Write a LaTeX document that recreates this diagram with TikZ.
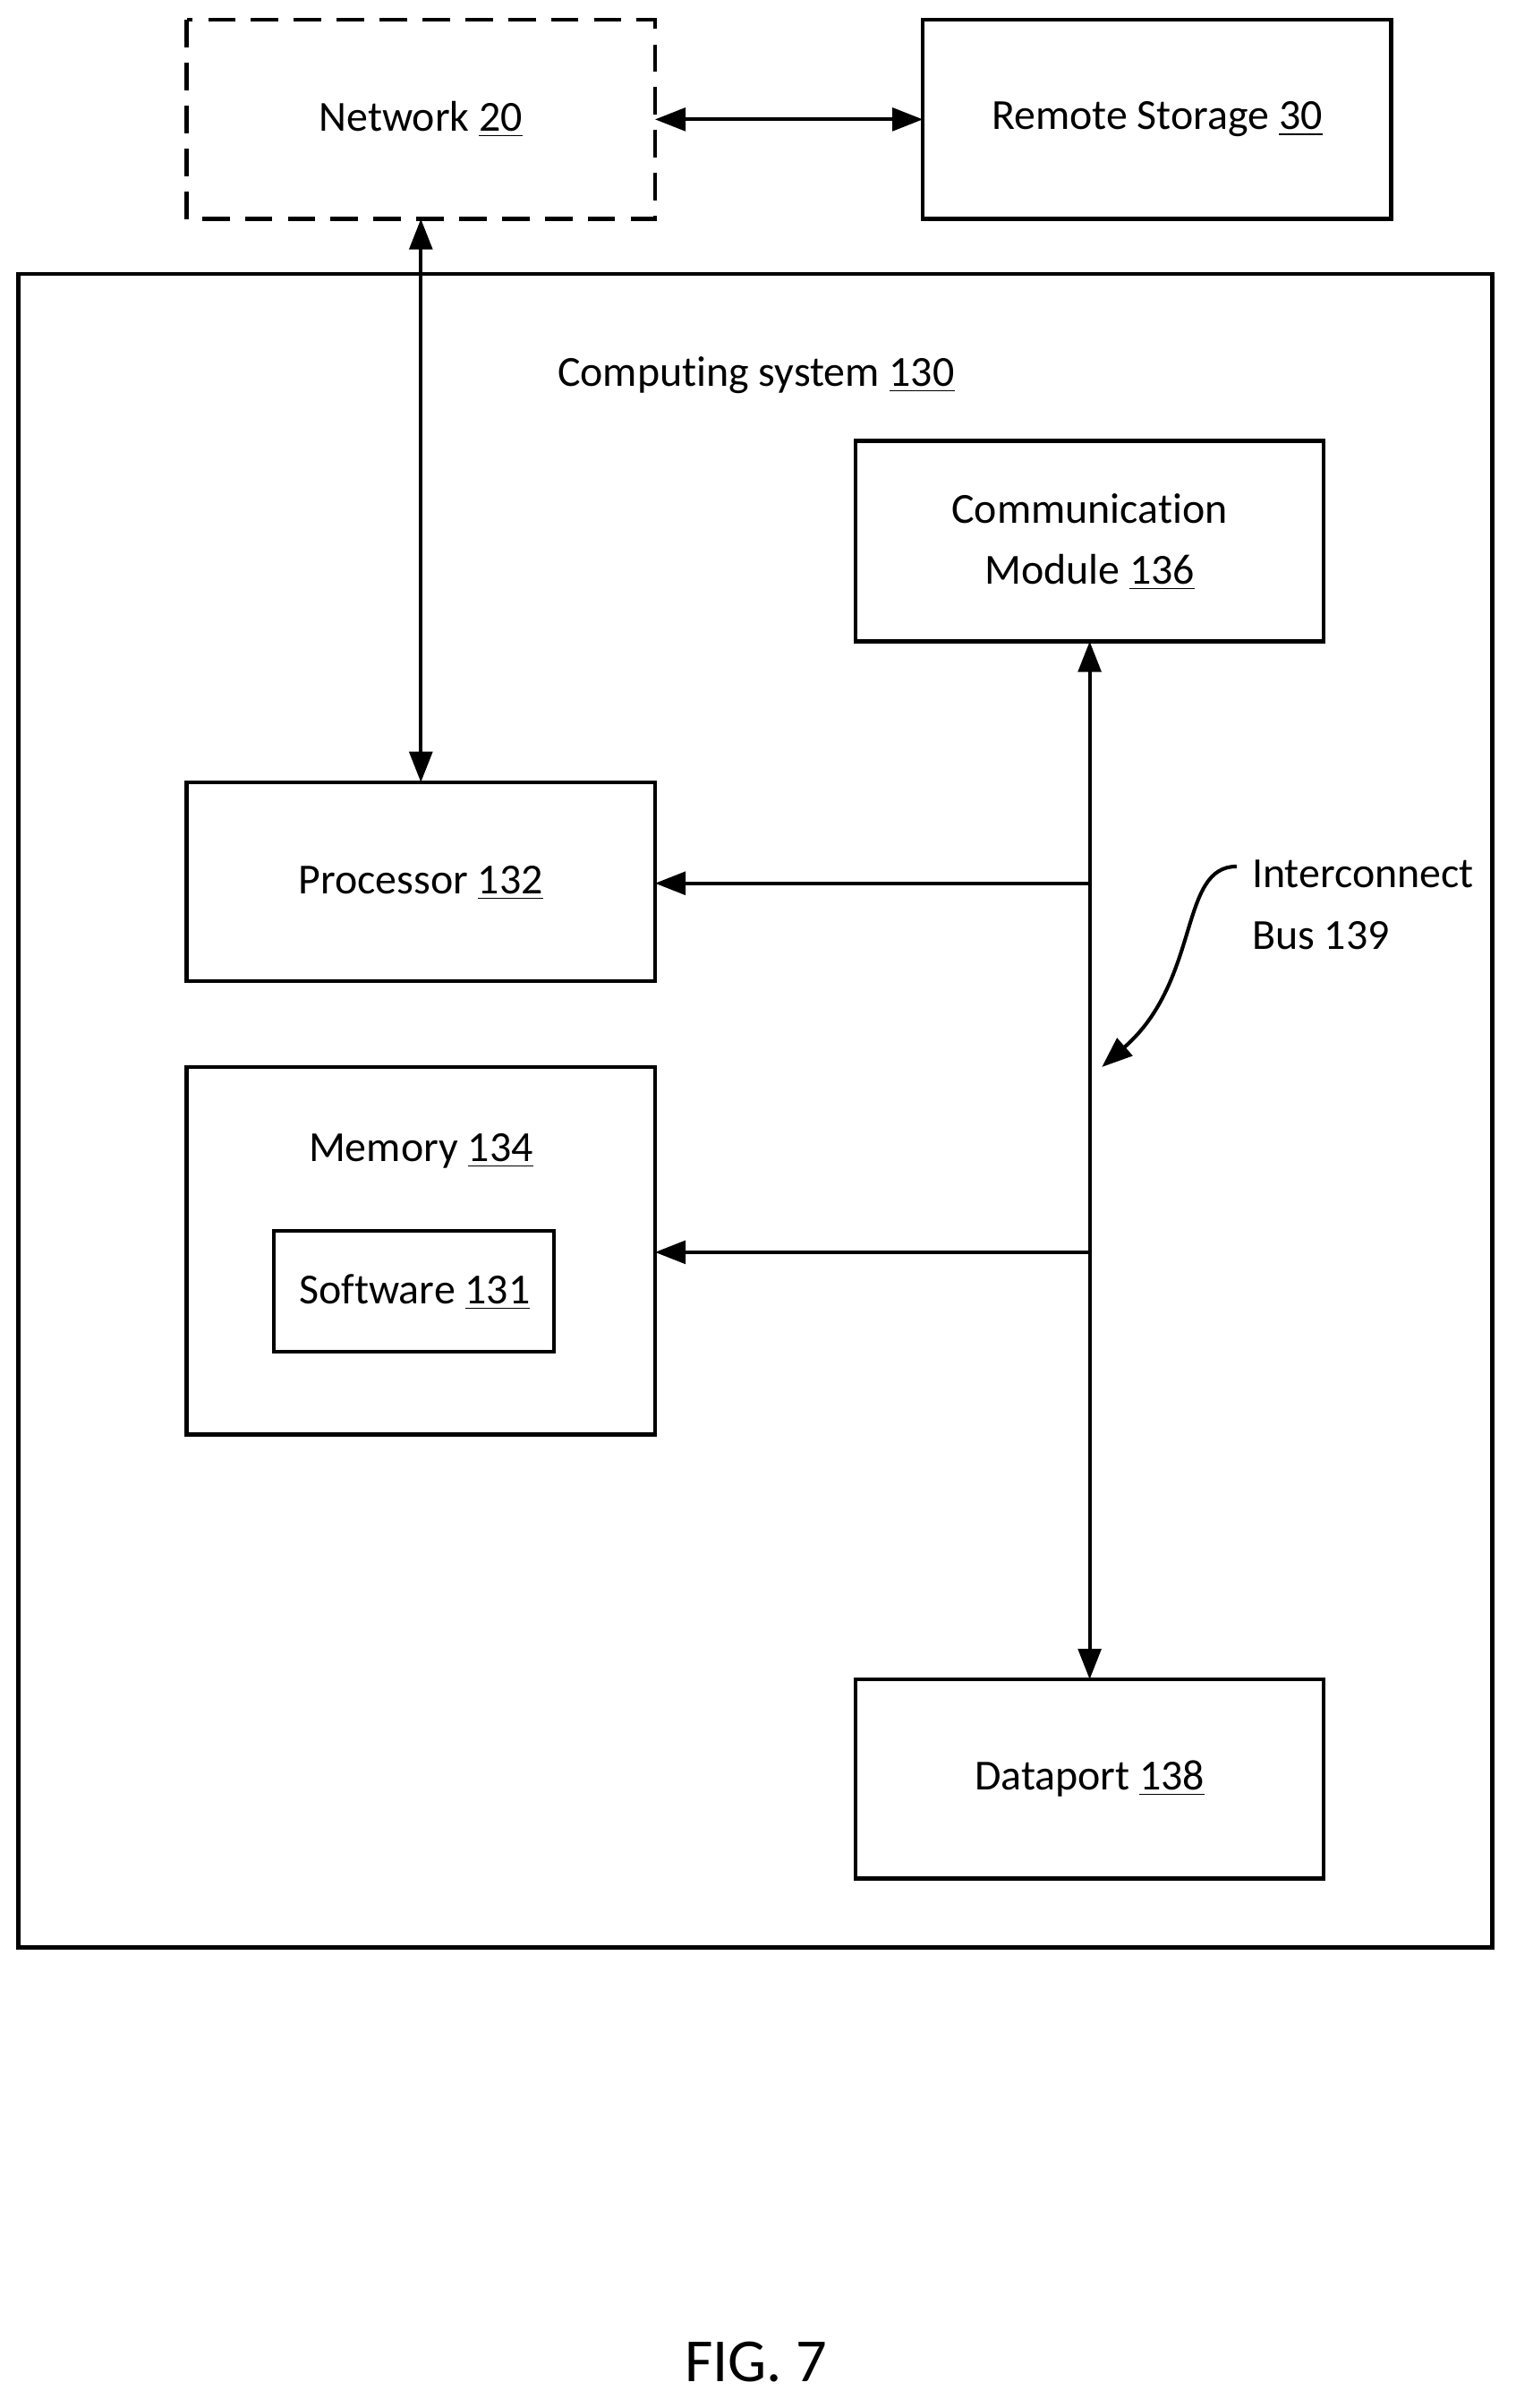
\documentclass[tikz,border=0pt]{standalone}
\usepackage{fontspec}
\setmainfont{Carlito}[Ligatures={NoCommon}]
\usetikzlibrary{arrows.meta}
\begin{document}
\begin{tikzpicture}[x=0.5pt,y=-0.5pt,
  box/.style={draw,line width=1.3pt},
  lbl/.style={font=\fontsize{14}{17}\selectfont,align=center},
  arr/.style={line width=1.2pt,-{Triangle[length=10pt,width=7.5pt]}},
  darr/.style={line width=1.2pt,{Triangle[length=10pt,width=7.5pt]}-{Triangle[length=10pt,width=7.5pt]}}]
\useasboundingbox (0,0) rectangle (990,1573);
\draw[box,dash pattern=on 9pt off 5pt] (122,13) rectangle (428,143);
\node[lbl] (net) at (275,78) {Network \underline{20}};
\coordinate (netR) at (428,78); \coordinate (netB) at (275,143);
\draw[box] (603,13) rectangle (909,143);
\node[lbl] (rs) at (756,78) {Remote Storage \underline{30}};
\coordinate (rsL) at (603,78);
\draw[box] (12,179) rectangle (975,1272);
\node[lbl] (cs) at (494,245) {Computing system \underline{130}};
\draw[box] (559,288) rectangle (865,419);
\node[lbl,font=\fontsize{14}{20}\selectfont] (cm) at (712,354) {Communication\\Module \underline{136}};
\coordinate (cmB) at (712,419);
\draw[box] (122,511) rectangle (428,641);
\node[lbl] (pr) at (275,577) {Processor \underline{132}};
\coordinate (prT) at (275,511); \coordinate (prR) at (428,577);
\draw[box] (122,697) rectangle (428,937);
\node[lbl] (mem) at (275,752) {Memory \underline{134}};
\coordinate (memR) at (428,818);
\draw[box] (179,804) rectangle (362,883);
\node[lbl] (sw) at (271,844) {Software \underline{131}};
\draw[box] (559,1097) rectangle (865,1227);
\node[lbl] (dp) at (712,1162) {Dataport \underline{138}};
\coordinate (dpT) at (712,1097);
\coordinate (b1) at (712,577); \coordinate (b2) at (712,818);
\draw[darr] (netR) -- (rsL);
\draw[darr] (netB) -- (prT);
\draw[darr] (cmB) -- (dpT);
\draw[arr] (b1) -- (prR);
\draw[arr] (b2) -- (memR);
\node[lbl,align=left,anchor=north west,font=\fontsize{14}{20}\selectfont] (ib) at (811,555) {Interconnect\\Bus 139};
\coordinate (ibs) at (808,566);
\coordinate (ibe) at (720,697);
\draw[arr] (ibs) .. controls (770,566) and (785,640) .. (ibe);
\node[font=\fontsize{20}{24}\selectfont] (fig) at (494,1543) {FIG. 7};
\end{tikzpicture}
\end{document}
